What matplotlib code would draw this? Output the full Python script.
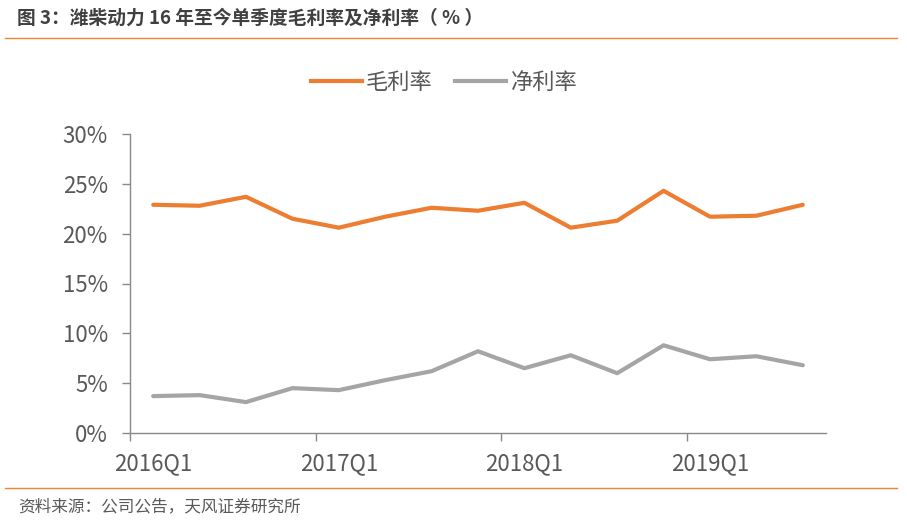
import numpy as np
import matplotlib.pyplot as plt
from matplotlib.lines import Line2D

plt.rcParams['font.family'] = ['Noto Sans CJK SC', 'DejaVu Sans']

# ============ 数据 ============
quarters = ["2016Q1", "2016Q2", "2016Q3", "2016Q4",
            "2017Q1", "2017Q2", "2017Q3", "2017Q4",
            "2018Q1", "2018Q2", "2018Q3", "2018Q4",
            "2019Q1", "2019Q2", "2019Q3"]
gross_margin = [22.9, 22.8, 23.7, 21.5, 20.6, 21.7, 22.6, 22.3,
                23.1, 20.6, 21.3, 24.3, 21.7, 21.8, 22.9]
net_margin = [3.7, 3.8, 3.1, 4.5, 4.3, 5.3, 6.2, 8.2,
              6.5, 7.8, 6.0, 8.8, 7.4, 7.7, 6.8]
y_ticks = [0, 5, 10, 15, 20, 25, 30]

ORANGE = '#ED7D31'
GRAY = '#A5A5A5'
AXIS = '#898989'
TXT = '#595959'

fig = plt.figure(figsize=(9.07, 5.25), dpi=100)
ax = fig.add_axes([130 / 907, 1 - 433 / 525, 696 / 907, 299 / 525])

x = np.arange(len(quarters))
ax.plot(x, gross_margin, color=ORANGE, lw=3, solid_capstyle='round', label='毛利率')
ax.plot(x, net_margin, color=GRAY, lw=3, solid_capstyle='round', label='净利率')

ax.set_xlim(-0.5, len(quarters) - 0.5)
ax.set_ylim(0, 30)
ax.set_yticks(y_ticks)
ax.set_yticklabels([f"{v}%" for v in y_ticks])

# 刻度在分类边界，标签在每年一季度
ax.set_xticks(np.arange(-0.5, len(quarters), 4))
ax.set_xticklabels([])
ax.set_xticks(np.arange(0, len(quarters), 4), minor=True)
ax.set_xticklabels([quarters[i] for i in range(0, len(quarters), 4)], minor=True)
ax.tick_params(axis='x', which='major', length=6, color=AXIS, width=1)
ax.tick_params(axis='x', which='minor', length=0, labelsize=16, labelcolor=TXT, pad=14)
ax.tick_params(axis='y', length=6, color=AXIS, width=1, labelsize=16,
               labelcolor=TXT, pad=10)

for s in ['top', 'right']:
    ax.spines[s].set_visible(False)
for s in ['left', 'bottom']:
    ax.spines[s].set_color(AXIS)
    ax.spines[s].set_linewidth(1)

# 图例
handles = [Line2D([], [], color=ORANGE, lw=3), Line2D([], [], color=GRAY, lw=3)]
fig.legend(handles, ['毛利率', '净利率'], loc='center', ncol=2,
           bbox_to_anchor=(444 / 907, 1 - 82 / 525), frameon=False,
           fontsize=16, labelcolor=TXT, handlelength=2.3,
           handletextpad=0.2, columnspacing=1.0)

# 标题、来源与分隔线
fig.text(17 / 907, 1 - 18 / 525, '图 3：潍柴动力 16 年至今单季度毛利率及净利率（ % ）',
         fontsize=13.5, fontweight='bold', color='#404040', va='center', ha='left')
fig.add_artist(Line2D([5 / 907, 897 / 907], [1 - 38 / 525] * 2, color='#E8892B', lw=1))
fig.add_artist(Line2D([5 / 907, 897 / 907], [1 - 488 / 525] * 2, color='#E8892B', lw=1))
fig.text(18 / 907, 1 - 507 / 525, '资料来源：公司公告，天风证券研究所',
         fontsize=12, color=TXT, va='center', ha='left')

fig.savefig('out.png', dpi=100)
